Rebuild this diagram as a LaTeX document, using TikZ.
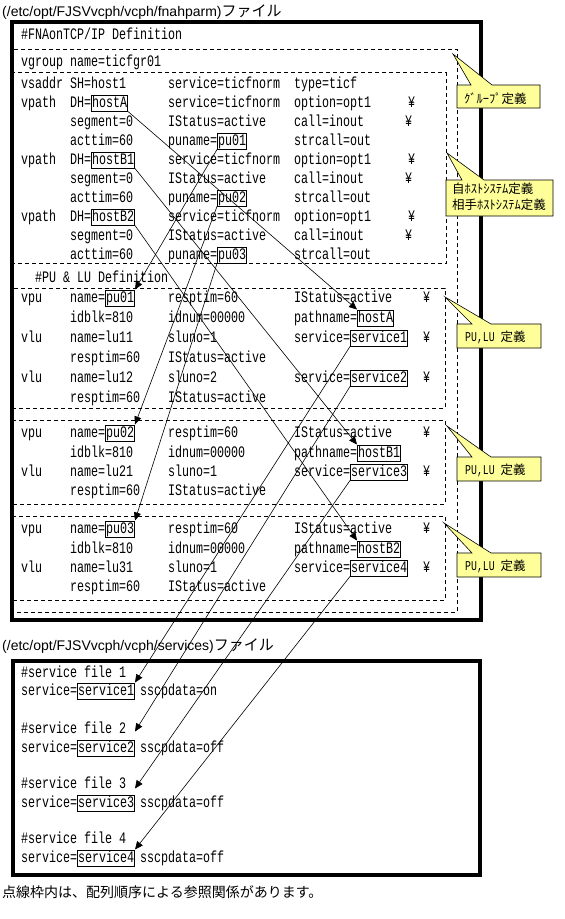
\documentclass[tikz,border=0pt]{standalone}
\usepackage{fontspec}
\setmainfont{Liberation Sans}
\newfontfamily\monof[FakeStretch=0.7292]{Liberation Mono}
\newfontfamily\jpf{Noto Sans CJK JP}
\usetikzlibrary{arrows.meta}
\definecolor{calloutyellow}{RGB}{255,255,153}
\begin{document}
\begin{tikzpicture}[x=1pt,y=-1pt,
  tx/.style={anchor=base west,inner sep=0pt,font=\monof\fontsize{16}{16}\selectfont},
  bx/.style={tx,draw,line width=1pt,inner xsep=0.5pt,inner ysep=1pt,text height=11pt,text depth=3pt},
  tt/.style={anchor=base west,inner sep=0pt,font=\fontsize{14}{14}\selectfont},
  ct/.style={anchor=base west,inner sep=0pt,font=\jpf\fontsize{12.5}{12.5}\selectfont},
  dsh/.style={draw,line width=1pt,dash pattern=on 4pt off 3pt},
  thick frame/.style={draw,line width=4pt},
  cl/.style={fill=calloutyellow,draw=black,line width=0.6pt},
  cn/.style={line width=0.6pt,-{Triangle[length=8pt,width=7pt]}}]
\useasboundingbox (0,0) rectangle (565,919);

% ---------- fnahparm file ----------
\node[tt] (ttl1) at (2,16) {(/etc/opt/FJSVvcph/vcph/fnahparm){\jpf\fontsize{15}{15}\selectfont ファイル}};
\draw[dsh] (13,49) rectangle (457,612);
\draw[dsh] (13,72.5) rectangle (446,263.5);
\draw[dsh] (13,288) rectangle (445,408);
\draw[dsh] (13,420) rectangle (445,504);
\draw[dsh] (13,516) rectangle (445,600);
\draw[thick frame] (12,22) rectangle (481,620);

\node[tx] (fna) at (21,39) {\#FNAonTCP/IP Definition};
\node[tx] (vg) at (21,66) {vgroup name=ticfgr01};

% host definition rows
\node[tx] (a1) at (21,88) {vsaddr};
\node[tx] (a2) at (70,88) {SH=host1};
\node[tx] (a3) at (168,88) {service=ticfnorm};
\node[tx] (a4) at (294,88) {type=ticf};

\node[tx] (b1) at (21,107) {vpath};
\node[tx] (b2) at (70,107) {DH=};
\node[bx] (hA) at (91,107) {hostA};
\node[tx] (b3) at (168,107) {service=ticfnorm};
\node[tx] (b4) at (294,107) {option=opt1};
\node[tx] (b5) at (408,107) {¥};
\node[tx] (c2) at (70,126) {segment=0};
\node[tx] (c3) at (168,126) {IStatus=active};
\node[tx] (c4) at (294,126) {call=inout};
\node[tx] (c5) at (405,126) {¥};
\node[tx] (d2) at (70,145) {acttim=60};
\node[tx] (d3) at (168,145) {puname=};
\node[bx] (pu1s) at (217,145) {pu01};
\node[tx] (d4) at (294,145) {strcall=out};

\node[tx] (e1) at (21,164) {vpath};
\node[tx] (e2) at (70,164) {DH=};
\node[bx] (hB1) at (91,164) {hostB1};
\node[tx] (e3) at (168,164) {service=ticfnorm};
\node[tx] (e4) at (294,164) {option=opt1};
\node[tx] (e5) at (408,164) {¥};
\node[tx] (f2) at (70,183) {segment=0};
\node[tx] (f3) at (168,183) {IStatus=active};
\node[tx] (f4) at (294,183) {call=inout};
\node[tx] (f5) at (405,183) {¥};
\node[tx] (g2) at (70,202) {acttim=60};
\node[tx] (g3) at (168,202) {puname=};
\node[bx] (pu2s) at (217,202) {pu02};
\node[tx] (g4) at (294,202) {strcall=out};

\node[tx] (h1) at (21,221) {vpath};
\node[tx] (h2) at (70,221) {DH=};
\node[bx] (hB2) at (91,221) {hostB2};
\node[tx] (h3) at (168,221) {service=ticfnorm};
\node[tx] (h4) at (294,221) {option=opt1};
\node[tx] (h5) at (408,221) {¥};
\node[tx] (i2) at (70,240) {segment=0};
\node[tx] (i3) at (168,240) {IStatus=active};
\node[tx] (i4) at (294,240) {call=inout};
\node[tx] (i5) at (405,240) {¥};
\node[tx] (j2) at (70,259) {acttim=60};
\node[tx] (j3) at (168,259) {puname=};
\node[bx] (pu3s) at (217,259) {pu03};
\node[tx] (j4) at (294,259) {strcall=out};

\node[tx] (pulu) at (35,282) {\#PU \& LU Definition};

% PU box 1
\node[tx] (k1) at (21,302) {vpu};
\node[tx] (k2) at (70,302) {name=};
\node[bx] (pu1t) at (105,302) {pu01};
\node[tx] (k3) at (168,302) {resptim=60};
\node[tx] (k4) at (294,302) {IStatus=active};
\node[tx] (k5) at (423,302) {¥};
\node[tx] (l2) at (70,322) {idblk=810};
\node[tx] (l3) at (168,322) {idnum=00000};
\node[tx] (l4) at (294,322) {pathname=};
\node[bx] (phA) at (357,322) {hostA};
\node[tx] (m1) at (21,342) {vlu};
\node[tx] (m2) at (70,342) {name=lu11};
\node[tx] (m3) at (168,342) {sluno=1};
\node[tx] (m4) at (294,342) {service=};
\node[bx] (sv1) at (350,342) {service1};
\node[tx] (m5) at (423,342) {¥};
\node[tx] (n2) at (70,362) {resptim=60};
\node[tx] (n3) at (168,362) {IStatus=active};
\node[tx] (o1) at (21,382) {vlu};
\node[tx] (o2) at (70,382) {name=lu12};
\node[tx] (o3) at (168,382) {sluno=2};
\node[tx] (o4) at (294,382) {service=};
\node[bx] (sv2) at (350,382) {service2};
\node[tx] (o5) at (423,382) {¥};
\node[tx] (p2) at (70,402) {resptim=60};
\node[tx] (p3) at (168,402) {IStatus=active};

% PU box 2
\node[tx] (q1) at (21,437) {vpu};
\node[tx] (q2) at (70,437) {name=};
\node[bx] (pu2t) at (105,437) {pu02};
\node[tx] (q3) at (168,437) {resptim=60};
\node[tx] (q4) at (294,437) {IStatus=active};
\node[tx] (q5) at (423,437) {¥};
\node[tx] (r2) at (70,457) {idblk=810};
\node[tx] (r3) at (168,457) {idnum=00000};
\node[tx] (r4) at (294,457) {pathname=};
\node[bx] (phB1) at (357,457) {hostB1};
\node[tx] (s1) at (21,476) {vlu};
\node[tx] (s2) at (70,476) {name=lu21};
\node[tx] (s3) at (168,476) {sluno=1};
\node[tx] (s4) at (294,476) {service=};
\node[bx] (sv3) at (350,476) {service3};
\node[tx] (s5) at (423,476) {¥};
\node[tx] (t2) at (70,495) {resptim=60};
\node[tx] (t3) at (168,495) {IStatus=active};

% PU box 3
\node[tx] (u1) at (21,533) {vpu};
\node[tx] (u2) at (70,533) {name=};
\node[bx] (pu3t) at (105,533) {pu03};
\node[tx] (u3) at (168,533) {resptim=60};
\node[tx] (u4) at (294,533) {IStatus=active};
\node[tx] (u5) at (423,533) {¥};
\node[tx] (v2) at (70,553) {idblk=810};
\node[tx] (v3) at (168,553) {idnum=00000};
\node[tx] (v4) at (294,553) {pathname=};
\node[bx] (phB2) at (357,553) {hostB2};
\node[tx] (w1) at (21,572) {vlu};
\node[tx] (w2) at (70,572) {name=lu31};
\node[tx] (w3) at (168,572) {sluno=1};
\node[tx] (w4) at (294,572) {service=};
\node[bx] (sv4) at (350,572) {service4};
\node[tx] (w5) at (423,572) {¥};
\node[tx] (x2) at (70,591) {resptim=60};
\node[tx] (x3) at (168,591) {IStatus=active};

% ---------- services file ----------
\node[tt] (ttl2) at (2,650) {(/etc/opt/FJSVvcph/vcph/services){\jpf\fontsize{15}{15}\selectfont ファイル}};
\draw[thick frame] (13,661) rectangle (480,875);
\node[tx] (sf1) at (21,677) {\#service file 1};
\node[tx] (sa1) at (21,695) {service=};
\node[bx] (fs1) at (77,695) {service1};
\node[tx] (sb1) at (140,695) {sscpdata=on};
\node[tx] (sf2) at (21,733) {\#service file 2};
\node[tx] (sa2) at (21,752) {service=};
\node[bx] (fs2) at (77,752) {service2};
\node[tx] (sb2) at (140,752) {sscpdata=off};
\node[tx] (sf3) at (21,788) {\#service file 3};
\node[tx] (sa3) at (21,807) {service=};
\node[bx] (fs3) at (77,807) {service3};
\node[tx] (sb3) at (140,807) {sscpdata=off};
\node[tx] (sf4) at (21,843) {\#service file 4};
\node[tx] (sa4) at (21,862) {service=};
\node[bx] (fs4) at (77,862) {service4};
\node[tx] (sb4) at (140,862) {sscpdata=off};

\node[anchor=base west,inner sep=0pt,font=\jpf\fontsize{14}{14}\selectfont] (foot) at (2,897) {点線枠内は、配列順序による参照関係があります。};

% ---------- connectors ----------
\draw[cn] (hA.south east) -- (phA.north west);
\draw[cn] (pu1s.south west) -- (pu1t.north east);
\draw[cn] (hB1.south east) -- (phB1.north west);
\draw[cn] (pu2s.south west) -- (pu2t.north east);
\draw[cn] (hB2.south east) -- (phB2.north west);
\draw[cn] (pu3s.south west) -- (pu3t.north east);
\draw[cn] (sv1.south west) -- (fs1.north east);
\draw[cn] (sv2.south west) -- ([yshift=8pt]fs2.north east);
\draw[cn] (sv3.south west) -- ([yshift=6pt]fs3.north east);
\draw[cn] (sv4.south west) -- (fs4.north east);

% ---------- callouts ----------
\path[cl] (457,85) -- (471,85) -- (453,54) -- (492,85) -- (540,85) -- (540,108) -- (457,108) -- cycle;
\node[ct] (co1) at (464,103) {ｸﾞﾙｰﾌﾟ定義};
\path[cl] (446,180) -- (462,180) -- (447,153) -- (484,180) -- (553,180) -- (553,216) -- (446,216) -- cycle;
\node[ct] (co2a) at (452,193.5) {自ﾎｽﾄｼｽﾃﾑ定義};
\node[ct] (co2b) at (452,209.5) {相手ﾎｽﾄｼｽﾃﾑ定義};
\path[cl] (457,324) -- (472,324) -- (445,297) -- (491,324) -- (541,324) -- (541,348) -- (457,348) -- cycle;
\node[ct] (co3) at (465,341) {{\monof\fontsize{13.5}{13.5}\selectfont PU,LU }定義};
\path[cl] (457,457) -- (472,457) -- (447,426) -- (491,457) -- (541,457) -- (541,481) -- (457,481) -- cycle;
\node[ct] (co4) at (465,474) {{\monof\fontsize{13.5}{13.5}\selectfont PU,LU }定義};
\path[cl] (457,553) -- (472,553) -- (444,523) -- (491,553) -- (541,553) -- (541,577) -- (457,577) -- cycle;
\node[ct] (co5) at (465,570) {{\monof\fontsize{13.5}{13.5}\selectfont PU,LU }定義};
\end{tikzpicture}
\end{document}
